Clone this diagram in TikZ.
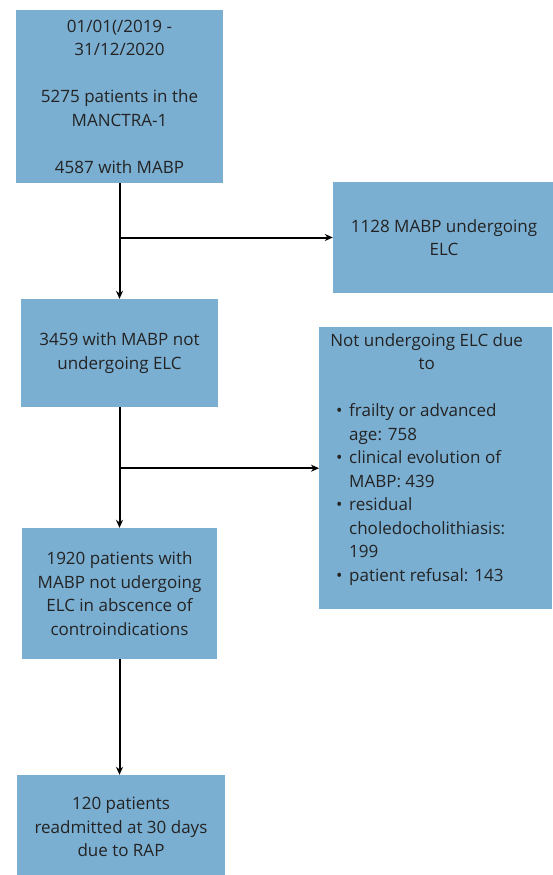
\documentclass[tikz,border=0pt]{standalone}
\usepackage{fontspec}
\setmainfont{Open Sans}
\usetikzlibrary{arrows.meta}
\definecolor{boxblue}{RGB}{123,175,210}
\definecolor{boxtext}{RGB}{35,35,35}
\begin{document}
\begin{tikzpicture}[x=1pt,y=-1pt,
  box/.style={fill=boxblue,draw=none,text=boxtext,align=center,inner sep=0pt,
    font=\fontsize{17}{23.5}\selectfont},
  flow/.style={line width=2pt,-{Stealth[length=8pt,width=7pt]}}]
  \useasboundingbox (0,0) rectangle (552,875);
  \node[box,minimum width=207pt,minimum height=173pt] (period) at (119.5,96.5)
    {01/01(/2019 -\\31/12/2020\\[23.5pt]5275 patients in the\\MANCTRA-1\\[23.5pt]4587 with MABP};
  \node[box,minimum width=222pt,minimum height=111pt] (elc) at (444,237.5)
    {1128 MABP undergoing\\ELC};
  \node[box,minimum width=197pt,minimum height=108pt] (noelc) at (119.5,353)
    {3459 with MABP not\\undergoing ELC};
  \node[box,anchor=north west] (reasons) at (319,327)
    {\begin{minipage}[t][282pt][t]{233pt}
      \vspace{6pt}\hspace*{5pt}\parbox[t]{205pt}{\centering Not undergoing ELC due\\to\par\vspace{23.5pt}
      \raggedright\leftskip=12pt
      \hangindent=13pt\hangafter=1\noindent\makebox[13pt][l]{\textbullet}frailty or advanced\newline age: 758\par
      \hangindent=13pt\hangafter=1\noindent\makebox[13pt][l]{\textbullet}clinical evolution of\newline MABP: 439\par
      \hangindent=13pt\hangafter=1\noindent\makebox[13pt][l]{\textbullet}residual\newline choledocholithiasis:\newline 199\par
      \hangindent=13pt\hangafter=1\noindent\makebox[13pt][l]{\textbullet}patient refusal: 143\par}
    \end{minipage}};
  \node[box,minimum width=195pt,minimum height=131pt] (noelcok) at (119.5,593.5)
    {1920 patients with\\MABP not udergoing\\ELC in abscence of\\controindications};
  \node[box,minimum width=208pt,minimum height=104pt] (rap) at (121,827)
    {120 patients\\readmitted at 30 days\\due to RAP};
  % branch points on the main line
  \coordinate (split1) at (period.south |- elc.west);
  \coordinate (split2) at (noelc.south |- reasons.west);
  \draw[flow] (period.south) -- (period.south |- noelc.north);
  \draw[flow] (split1) -- (elc.west);
  \draw[flow] (noelc.south) -- (noelc.south |- noelcok.north);
  \draw[flow] (split2) -- (split2 -| reasons.west);
  \draw[flow] (noelcok.south) -- (noelcok.south |- rap.north);
\end{tikzpicture}
\end{document}
